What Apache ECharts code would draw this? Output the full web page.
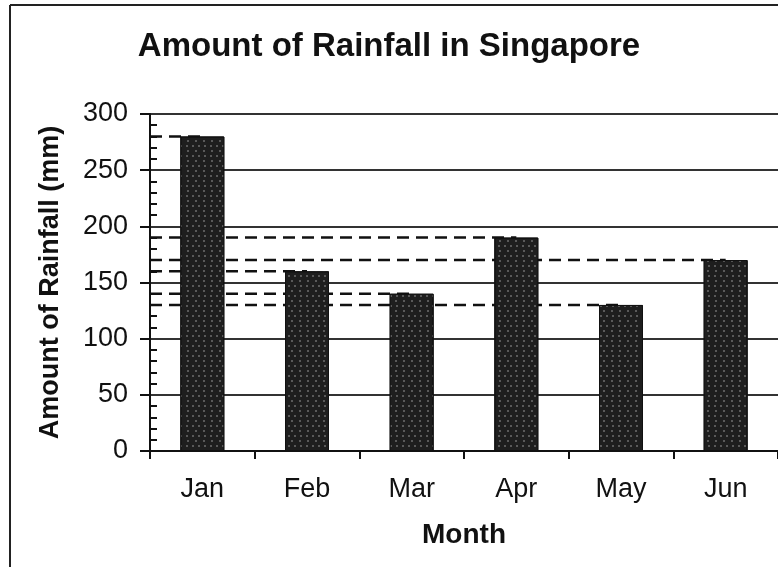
<!DOCTYPE html>
<html>
<head>
<meta charset="utf-8">
<script src="https://cdn.jsdelivr.net/npm/echarts@6/dist/echarts.min.js"></script>
<style>html,body{margin:0;padding:0;background:#fff}#c{width:778px;height:567px}</style>
</head>
<body>
<div id="c"></div>
<script>
const months = ['Jan', 'Feb', 'Mar', 'Apr', 'May', 'Jun'];
const rainfall = [280, 160, 140, 190, 130, 170];
const yTicks = [0, 50, 100, 150, 200, 250, 300];
const titleText = 'Amount of Rainfall in Singapore';
const yName = 'Amount of Rainfall (mm)';
const xName = 'Month';

const FONT = '"Liberation Sans", Arial, sans-serif';
const chart = echarts.init(document.getElementById('c'));

const dashSeries = rainfall.map((v, i) => ({
  type: 'line',
  xAxisIndex: 1,
  yAxisIndex: 0,
  z: 1,
  symbol: 'none',
  silent: true,
  lineStyle: { color: '#111', width: 2.5, type: [12, 7] },
  data: [[0, v], [i + 0.5, v]]
}));

chart.setOption({
  animation: false,
  backgroundColor: '#fff',
  title: {
    text: titleText,
    left: 'center',
    top: 25,
    textStyle: { fontFamily: FONT, fontSize: 33, fontWeight: 'bold', color: '#111' }
  },
  graphic: [
    { type: 'line', shape: { x1: 10, y1: 5, x2: 10, y2: 567 }, style: { stroke: '#222', lineWidth: 2 } },
    { type: 'line', shape: { x1: 10, y1: 5, x2: 778, y2: 5 }, style: { stroke: '#222', lineWidth: 2 } }
  ],
  grid: { left: 150, top: 114, width: 630, height: 337 },
  xAxis: [
    {
      type: 'category',
      data: months,
      boundaryGap: true,
      name: xName,
      nameLocation: 'middle',
      nameGap: 70,
      nameTextStyle: { fontFamily: FONT, fontSize: 28, fontWeight: 'bold', color: '#111' },
      axisLine: { lineStyle: { color: '#111', width: 2 } },
      axisTick: { show: true, length: 8, lineStyle: { color: '#111', width: 2 } },
      axisLabel: { fontFamily: FONT, fontSize: 27, color: '#111', margin: 25 }
    },
    { type: 'value', min: 0, max: months.length, show: false }
  ],
  yAxis: {
    type: 'value',
    min: yTicks[0],
    max: yTicks[yTicks.length - 1],
    interval: 50,
    name: yName,
    nameLocation: 'middle',
    nameGap: 86,
    nameTextStyle: { fontFamily: FONT, fontSize: 27, fontWeight: 'bold', color: '#111' },
    axisLine: { show: true, lineStyle: { color: '#111', width: 2 } },
    axisTick: { show: true, length: 10, lineStyle: { color: '#111', width: 2 } },
    minorTick: { show: true, splitNumber: 5, length: -7, lineStyle: { color: '#111', width: 2 } },
    axisLabel: { fontFamily: FONT, fontSize: 27, color: '#111', margin: 22 },
    splitLine: { show: true, lineStyle: { color: '#333', width: 2 } }
  },
  series: [
    {
      type: 'bar',
      data: rainfall,
      barWidth: 44,
      z: 3,
      itemStyle: {
        color: '#1e1e1e',
        borderColor: '#111',
        borderWidth: 1,
        decal: {
          symbol: 'rect',
          symbolSize: 0.7,
          color: 'rgba(255,255,255,0.5)',
          dashArrayX: [[2, 4], [0, 3, 2, 3]],
          dashArrayY: [2, 3],
          rotation: 0
        }
      }
    }
  ].concat(dashSeries)
});
</script>
</body>
</html>
